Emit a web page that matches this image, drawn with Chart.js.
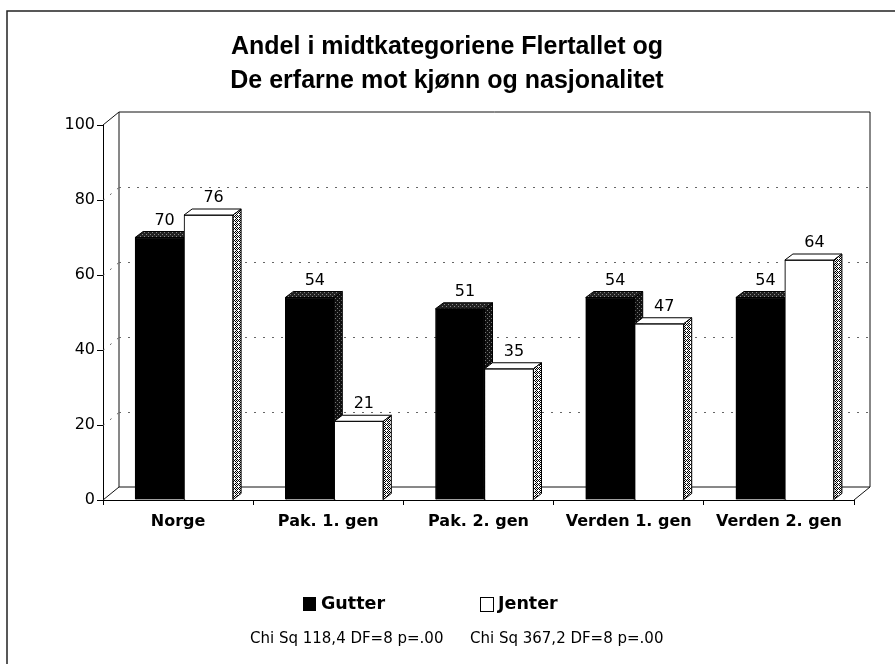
<!DOCTYPE html>
<html><head><meta charset="utf-8">
<script src="https://cdn.jsdelivr.net/npm/chart.js@4.4.1/dist/chart.umd.min.js"></script>
<style>html,body{margin:0;padding:0;background:#fff}#wrap{width:895px;height:664px}canvas{display:block}</style>
</head><body><div id="wrap"><canvas id="c" width="895" height="664"></canvas></div>
<script>
const categories = ['Norge', 'Pak. 1. gen', 'Pak. 2. gen', 'Verden 1. gen', 'Verden 2. gen'];
const gutter = [70, 54, 51, 54, 54];
const jenter = [76, 21, 35, 47, 64];
const seriesNames = ['Gutter', 'Jenter'];
const yTickValues = [0, 20, 40, 60, 80, 100];
const titleLines = ['Andel i midtkategoriene Flertallet og', 'De erfarne mot kjønn og nasjonalitet'];
const notes = ['Chi Sq 118,4 DF=8 p=.00', 'Chi Sq 367,2 DF=8 p=.00'];

const DX = 16, DY = 13, BDX = 8, BDY = 6, SHIFT = 6 / 150;

function pattern(ctx, bg, fg, pts, n) {
  const c = document.createElement('canvas'); c.width = n; c.height = n;
  const g = c.getContext('2d'); g.fillStyle = bg; g.fillRect(0, 0, n, n);
  g.fillStyle = fg; pts.forEach(p => g.fillRect(p[0], p[1], 1, 1));
  return ctx.createPattern(c, 'repeat');
}

function drawFaces(ctx, meta, dark) {
  const topFill = dark ? pattern(ctx, '#222', '#888', [[0,0],[2,2]], 4) : '#fff';
  const sideFill = dark ? pattern(ctx, '#111', '#777', [[1,0],[3,2]], 4) : pattern(ctx, '#fff', '#000', [[0,0],[2,0],[1,1],[3,1],[0,2],[3,3],[1,3]], 4);
  ctx.save();
  ctx.strokeStyle = '#000'; ctx.lineWidth = 1;
  meta.data.forEach(el => {
    const p = el.getProps(['x', 'y', 'base', 'width'], true);
    const l = p.x - p.width / 2, r = p.x + p.width / 2, t = p.y, b = p.base;
    ctx.beginPath();
    ctx.moveTo(l, t); ctx.lineTo(l + BDX, t - BDY); ctx.lineTo(r + BDX, t - BDY); ctx.lineTo(r, t); ctx.closePath();
    ctx.fillStyle = topFill; ctx.fill(); ctx.stroke();
    ctx.beginPath();
    ctx.moveTo(r, t); ctx.lineTo(r + BDX, t - BDY); ctx.lineTo(r + BDX, b - BDY); ctx.lineTo(r, b); ctx.closePath();
    ctx.fillStyle = sideFill; ctx.fill(); ctx.stroke();
  });
  ctx.restore();
}

const frame3d = {
  id: 'frame3d',
  beforeDatasetsDraw(chart) {
    const { ctx, chartArea: a, scales } = chart;
    const y = scales.y;
    const L = a.left, R = a.right, T = y.getPixelForValue(100), B = y.getPixelForValue(0);
    ctx.save();
    ctx.strokeStyle = '#111'; ctx.lineWidth = 1;
    ctx.beginPath();
    ctx.moveTo(L + DX, B - DY); ctx.lineTo(L + DX, T - DY); ctx.lineTo(R + DX, T - DY); ctx.lineTo(R + DX, B - DY); ctx.lineTo(L + DX, B - DY);
    ctx.moveTo(L, T); ctx.lineTo(L + DX, T - DY);
    ctx.moveTo(L, B); ctx.lineTo(L + DX, B - DY);
    ctx.moveTo(R, B); ctx.lineTo(R + DX, B - DY);
    ctx.stroke();
    ctx.setLineDash([2, 7]); ctx.strokeStyle = '#666';
    yTickValues.forEach(v => {
      if (v === 0 || v === 100) return;
      const yy = Math.round(y.getPixelForValue(v)) + 0.5;
      ctx.beginPath();
      ctx.moveTo(L + DX, yy - DY); ctx.lineTo(R + DX, yy - DY);
      ctx.moveTo(L, yy); ctx.lineTo(L + DX, yy - DY);
      ctx.stroke();
    });
    ctx.restore();
  },
  afterDatasetsDraw(chart) {
    const { ctx } = chart;
    const m0 = chart.getDatasetMeta(0), m1 = chart.getDatasetMeta(1);
    // black bars: faces, then white bars redrawn on top with their faces
    drawFaces(ctx, m0, true);
    m1.data.forEach(el => el.draw(ctx));
    drawFaces(ctx, m1, false);
    ctx.save();
    ctx.fillStyle = '#000';
    ctx.font = '16px "DejaVu Sans"';
    ctx.textAlign = 'center'; ctx.textBaseline = 'bottom';
    chart.data.datasets.forEach((ds, di) => {
      const meta = chart.getDatasetMeta(di);
      meta.data.forEach((el, i) => {
        const p = el.getProps(['x', 'y'], true);
        ctx.fillText(String(ds.data[i].y), p.x + 5, p.y - BDY - 3);
      });
    });
    ctx.restore();
  },
  afterDraw(chart) {
    const { ctx } = chart;
    ctx.save();
    ctx.strokeStyle = '#222'; ctx.lineWidth = 1.5;
    ctx.beginPath(); ctx.moveTo(7, 664); ctx.lineTo(7, 11); ctx.lineTo(895, 11); ctx.stroke();
    ctx.fillStyle = '#000';
    ctx.textAlign = 'center'; ctx.textBaseline = 'middle';
    ctx.font = 'bold 25px "Liberation Sans", Arial, sans-serif';
    ctx.fillText(titleLines[0], 447, 47);
    ctx.fillText(titleLines[1], 447, 81);
    ctx.textAlign = 'left';
    ctx.font = 'bold 17.5px "DejaVu Sans"';
    ctx.fillStyle = '#000'; ctx.fillRect(303, 597, 13, 14);
    ctx.fillText(seriesNames[0], 321, 604);
    ctx.lineWidth = 1; ctx.strokeStyle = '#000';
    ctx.strokeRect(480.5, 597.5, 13, 14);
    ctx.fillText(seriesNames[1], 498, 604);
    ctx.font = '15px "DejaVu Sans"';
    ctx.fillText(notes[0], 250, 639);
    ctx.fillText(notes[1], 470, 639);
    ctx.restore();
  }
};

new Chart(document.getElementById('c'), {
  type: 'bar',
  data: {
    labels: categories,
    datasets: [
      { label: seriesNames[0], data: gutter.map((v, i) => ({ x: i, y: v })), xAxisID: 'xb', yAxisID: 'y',
        backgroundColor: '#000', borderColor: '#000', borderWidth: 1, barThickness: 49 },
      { label: seriesNames[1], data: jenter.map((v, i) => ({ x: i, y: v })), xAxisID: 'xb', yAxisID: 'y',
        backgroundColor: '#fff', borderColor: '#000', borderWidth: 1, barThickness: 49 }
    ]
  },
  options: {
    responsive: false, animation: false, devicePixelRatio: 1,
    layout: { padding: { left: 0, top: 125, right: 41, bottom: 124 } },
    plugins: { legend: { display: false }, title: { display: false }, tooltip: { enabled: false } },
    scales: {
      x: {
        type: 'category', position: 'bottom',
        grid: { display: true, offset: true, drawOnChartArea: false, tickLength: 5, color: '#000' },
        border: { display: true, color: '#000', width: 1 },
        ticks: { color: '#000', font: { family: 'DejaVu Sans', weight: 'bold', size: 16 }, padding: 7, maxRotation: 0, autoSkip: false },
        afterFit: s => { s.height = 40; }
      },
      xb: { type: 'linear', display: false, min: -0.5 - SHIFT, max: 4.5 - SHIFT, offset: false },
      y: {
        type: 'linear', position: 'left', min: 0, max: 100,
        afterBuildTicks: s => { s.ticks = yTickValues.map(v => ({ value: v })); },
        grid: { display: true, drawOnChartArea: false, tickLength: 6, color: '#000' },
        border: { display: true, color: '#000', width: 1 },
        ticks: { color: '#000', font: { family: 'DejaVu Sans', size: 16 }, padding: 2 },
        afterFit: s => { s.width = 103; }
      }
    }
  },
  plugins: [frame3d]
});
</script>
</body></html>
